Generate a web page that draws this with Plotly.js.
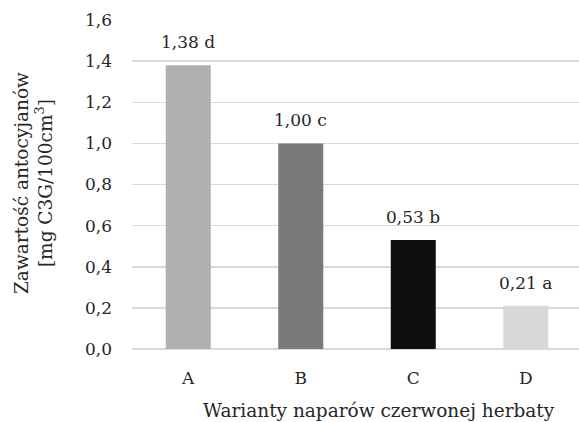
<!DOCTYPE html>
<html>
<head>
<meta charset="utf-8">
<script src="https://cdn.plot.ly/plotly-3.0.1.min.js"></script>
<style>html,body{margin:0;padding:0;background:#fff;}#chart{width:579px;height:422px;}</style>
</head>
<body>
<div id="chart"></div>
<script>
// Anthocyanin content in red tea infusion variants
const categories = ['A', 'B', 'C', 'D'];
const values = [1.38, 1.00, 0.53, 0.21];
const groups = ['d', 'c', 'b', 'a'];
const barColors = ['#b0b0b0', '#7a7a7a', '#0f0f0f', '#d8d8d8'];
const yTicks = [0, 0.2, 0.4, 0.6, 0.8, 1.0, 1.2, 1.4, 1.6];
const xTitle = 'Warianty naparów czerwonej herbaty';
const yTitle = 'Zawartość antocyjanów<br>[mg C3G/100cm<sup>3</sup>]';

const font = 'DejaVu Serif, Liberation Serif, serif';
const ink = '#262626';

const trace = {
  type: 'bar',
  x: categories,
  y: values,
  width: 0.4,
  marker: {color: barColors, line: {width: 0}},
  hoverinfo: 'none'
};

// value + significance group written above each bar
const valueLabels = values.map((v, i) => ({
  x: categories[i],
  y: v,
  xref: 'x',
  yref: 'y',
  text: v.toFixed(2).replace('.', ',') + ' ' + groups[i],
  showarrow: false,
  yanchor: 'bottom',
  yshift: 11,
  font: {family: font, size: 17, color: ink}
}));

// axis titles placed in pixel space
const titles = [
  {
    text: xTitle,
    xref: 'paper', yref: 'paper',
    x: (379 - 132) / 447, y: -(410 - 349) / 329,
    xanchor: 'center', yanchor: 'middle',
    showarrow: false,
    font: {family: font, size: 18.5, color: ink}
  },
  {
    text: yTitle,
    xref: 'paper', yref: 'paper',
    x: -(132 - 33) / 447, y: (349 - 183) / 329,
    xanchor: 'center', yanchor: 'middle',
    textangle: -90,
    showarrow: false,
    font: {family: font, size: 18.5, color: ink}
  }
];

const layout = {
  width: 579,
  height: 422,
  margin: {l: 132, r: 0, t: 20, b: 73},
  paper_bgcolor: '#fff',
  plot_bgcolor: '#fff',
  separators: ', ',
  showlegend: false,
  font: {family: font, color: ink},
  annotations: valueLabels.concat(titles),
  xaxis: {
    range: [-0.5, 3.473],
    showgrid: false,
    zeroline: false,
    showline: false,
    ticks: '',
    ticklabelstandoff: 17,
    tickfont: {family: font, size: 17, color: ink}
  },
  yaxis: {
    range: [0, 1.6],
    tickvals: yTicks,
    tickformat: '.1f',
    showgrid: true,
    gridcolor: '#d9d9d9',
    gridwidth: 1.5,
    zeroline: true,
    zerolinecolor: '#d9d9d9',
    zerolinewidth: 1.5,
    showline: false,
    ticks: '',
    ticklabelstandoff: 19,
    tickfont: {family: font, size: 17, color: ink}
  }
};

Plotly.newPlot('chart', [trace], layout, {displayModeBar: false, staticPlot: true});
</script>
</body>
</html>
